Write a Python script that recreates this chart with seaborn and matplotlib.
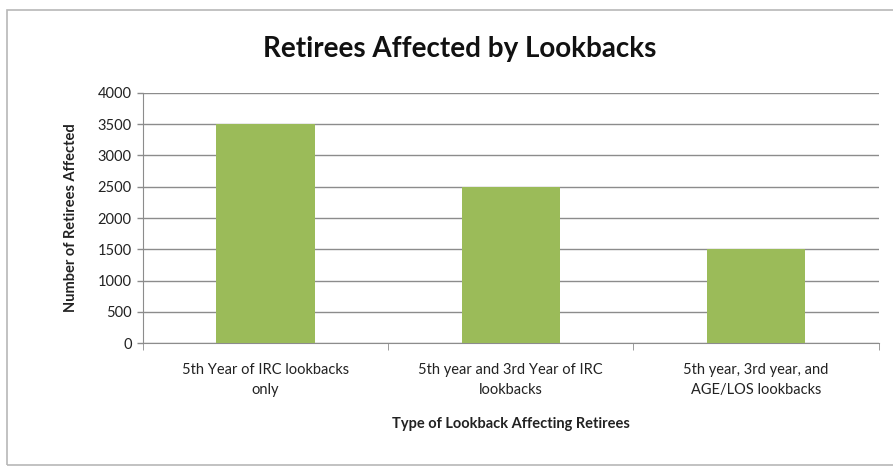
import matplotlib
matplotlib.use("Agg")
import matplotlib.pyplot as plt
import seaborn as sns
import pandas as pd
from matplotlib.patches import Rectangle

# chart data
categories = [
    "5th Year of IRC lookbacks\nonly",
    "5th year and 3rd Year of IRC\nlookbacks",
    "5th year, 3rd year, and\nAGE/LOS lookbacks",
]
retirees = [3500, 2500, 1500]
yticks = [0, 500, 1000, 1500, 2000, 2500, 3000, 3500, 4000]

df = pd.DataFrame({"lookback": categories, "retirees": retirees})

sns.set_style("white")
plt.rcParams["font.family"] = ["Lato", "DejaVu Sans"]

fig = plt.figure(figsize=(8.93, 4.76), dpi=100)
ax = fig.add_axes([0.160, 0.279, 0.824, 0.526])

# outer chart frame
fig.patches.append(Rectangle((7 / 893, 11 / 476), 1.2, 455 / 476, transform=fig.transFigure,
                             fill=False, edgecolor="#b8b8b8", linewidth=1.2))

sns.barplot(data=df, x="lookback", y="retirees", color="#9bbb59", width=0.40,
            saturation=1, linewidth=0, edgecolor="none", ax=ax, zorder=3)

ax.set_ylim(0, 4000)
ax.set_xlim(-0.5, 2.5)
ax.set_yticks(yticks)
ax.yaxis.grid(True, color="#8c8c8c", linewidth=1.0, zorder=0)
ax.set_axisbelow(True)

for s in ["top", "right"]:
    ax.spines[s].set_visible(False)
ax.spines["left"].set_color("#8c8c8c")
ax.spines["bottom"].set_color("#8c8c8c")

ax.tick_params(axis="y", labelsize=10.5, length=4, width=1, direction="out",
               left=True, pad=4, colors="#8c8c8c", labelcolor="#222222")
ax.tick_params(axis="x", labelsize=10.5, labelcolor="#222222", length=0, pad=14)
for lbl in ax.get_xticklabels():
    lbl.set_linespacing(1.6)
# tick marks between categories like excel
ax.set_xticks([-0.5, 0.5, 1.5, 2.5], minor=True)
ax.tick_params(axis="x", which="minor", length=5, color="#8c8c8c", bottom=True)

ax.set_xlabel("Type of Lookback Affecting Retirees", fontsize=10.5, fontweight="bold",
              color="#222222", labelpad=14)
ax.set_ylabel("Number of Retirees Affected", fontsize=10.5, fontweight="bold",
              color="#222222", labelpad=14)
fig.suptitle("Retirees Affected by Lookbacks", fontsize=20, fontweight="bold",
             color="#111111", x=0.515, y=0.925)

fig.savefig("out.png", dpi=100)
